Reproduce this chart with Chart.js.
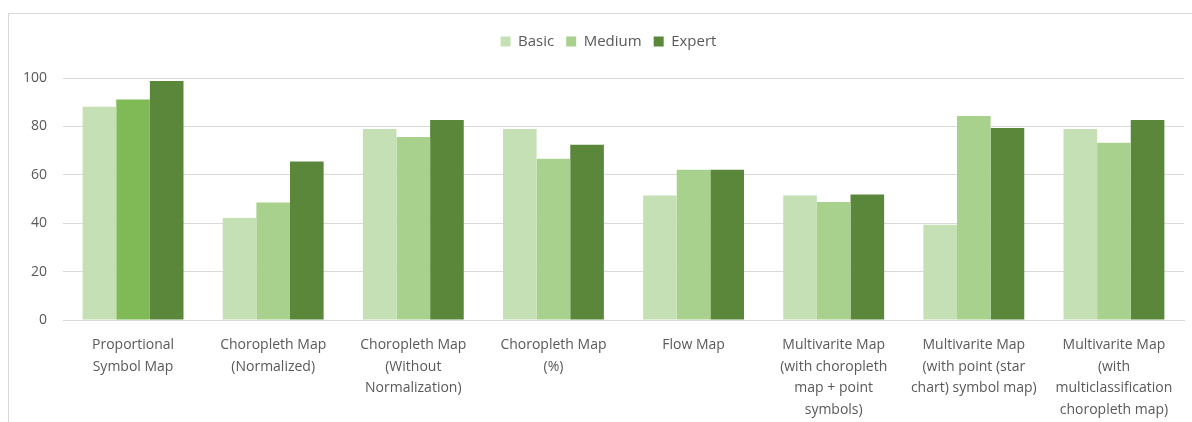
<!DOCTYPE html>
<html>
<head>
<meta charset="utf-8">
<script src="https://cdn.jsdelivr.net/npm/chart.js@4"></script>
<style>
  body { margin: 0; background: #fff; }
  #frame {
    position: absolute; left: 8px; top: 13px;
    width: 1183px; height: 408px;
    border-left: 1px solid #d9d9d9; border-top: 1px solid #d9d9d9;
  }
</style>
</head>
<body>
<div id="frame"><canvas id="myChart" width="1183" height="408"></canvas></div>
<script>
// カテゴリ（複数行ラベル）
const categories = [
  ['Proportional', 'Symbol Map'],
  ['Choropleth Map', '(Normalized)'],
  ['Choropleth Map', '(Without', 'Normalization)'],
  ['Choropleth Map', '(%)'],
  ['Flow Map'],
  ['Multivarite Map', '(with choropleth', 'map + point', 'symbols)'],
  ['Multivarite Map', '(with point (star', 'chart) symbol map)'],
  ['Multivarite Map', '(with', 'multiclassification', 'choropleth map)'],
]
const basic = [88.1, 42.1, 78.9, 78.9, 51.4, 51.4, 39.4, 78.9]
const medium = [91.1, 48.6, 75.6, 66.6, 62.1, 48.8, 84.3, 73.2]
const expert = [98.8, 65.5, 82.6, 72.4, 62.1, 51.9, 79.3, 82.6]
const yTicks = [0, 20, 40, 60, 80, 100]

// 1つ目のMediumだけ色が違う
const mediumColors = medium.map((v, i) => (i === 0 ? '#7fba57' : '#a9d18e'))

// 凡例の下に余白を足し、少し右へずらす
const legendGap = {
  id: 'legendGap',
  beforeInit(chart) {
    const fit = chart.legend.fit
    chart.legend.fit = function () {
      fit.bind(chart.legend)()
      this.height += 19
    }
  },
  afterLayout(chart) {
    chart.legend.left += 12
    chart.legend.right += 12
  },
}

const ctx = document.getElementById('myChart').getContext('2d')
const myChart = new Chart(ctx, {
  type: 'bar',
  data: {
    labels: categories,
    datasets: [
      { label: 'Basic', data: basic, backgroundColor: '#c5e0b4' },
      { label: 'Medium', data: medium, backgroundColor: mediumColors },
      { label: 'Expert', data: expert, backgroundColor: '#5b873a' },
    ],
  },
  plugins: [legendGap],
  options: {
    responsive: false,
    animation: false,
    layout: { padding: { top: 8, right: 8, left: 0, bottom: 0 } },
    datasets: { bar: { categoryPercentage: 0.72, barPercentage: 1 } },
    plugins: {
      tooltip: { enabled: false },
      legend: {
        position: 'top',
        labels: {
          boxWidth: 10, boxHeight: 10, padding: 12,
          color: '#595959',
          font: { family: 'Open Sans', size: 15 },
          generateLabels: (chart) => chart.data.datasets.map((d, i) => ({
            text: d.label,
            fillStyle: i === 1 ? '#a9d18e' : d.backgroundColor,
            strokeStyle: 'transparent', lineWidth: 0,
            fontColor: '#595959', datasetIndex: i,
          })),
        },
      },
    },
    scales: {
      x: {
        grid: { display: false },
        border: { display: true, color: '#d9d9d9', width: 1 },
        ticks: { color: '#595959', font: { family: 'Open Sans', size: 14, lineHeight: 1.55 }, autoSkip: false, maxRotation: 0, padding: 6 },
        afterFit: (s) => { s.height = 102 },
      },
      y: {
        min: 0, max: 100,
        afterBuildTicks: (s) => { s.ticks = yTicks.map((v) => ({ value: v })) },
        grid: { color: '#d9d9d9', drawTicks: false },
        border: { display: false },
        ticks: { color: '#595959', font: { family: 'Open Sans', size: 14 }, padding: 16 },
        afterFit: (s) => { s.width = 54 },
      },
    },
  },
})
</script>
</body>
</html>
